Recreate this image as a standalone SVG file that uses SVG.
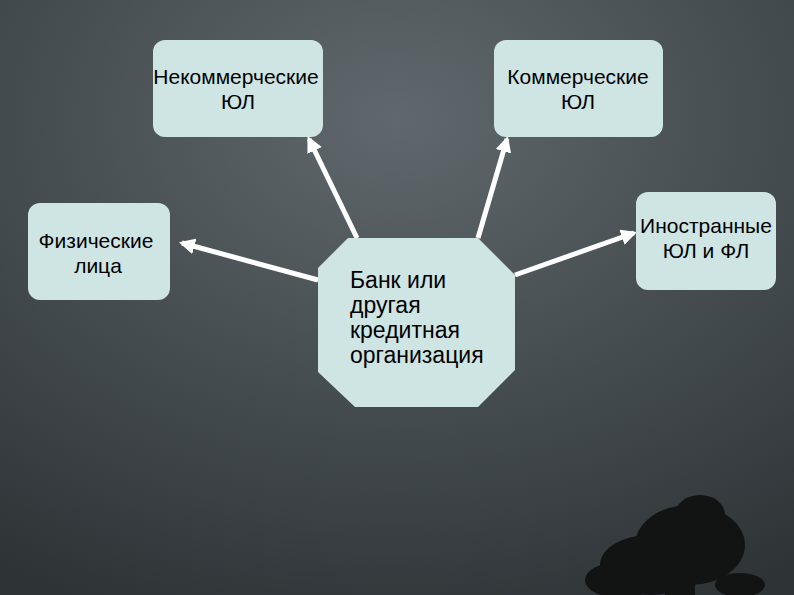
<svg xmlns="http://www.w3.org/2000/svg" width="794" height="595" viewBox="0 0 794 595">
<defs>
<radialGradient id="bg" cx="0.5" cy="0.2" r="0.9">
<stop offset="0" stop-color="#5f686c"/>
<stop offset="1" stop-color="#2e3336"/>
</radialGradient>
<marker id="ah" viewBox="0 0 10 10" refX="8" refY="5" markerWidth="3.2" markerHeight="3.2" orient="auto">
<path d="M0,0 L10,5 L0,10 Z" fill="#ffffff"/>
</marker>
<style>
.box{fill:#cfe5e3;}
.t{font-family:"Liberation Sans",Arial,sans-serif;font-size:21px;fill:#000;}
.b{font-size:23px;}
.c{stroke:#fff;stroke-width:5;fill:none;marker-end:url(#ah);}
</style>
</defs>
<rect width="794" height="595" fill="url(#bg)"/>
<g id="tree" fill="#121414">
<ellipse cx="690" cy="545" rx="55" ry="40"/>
<ellipse cx="650" cy="565" rx="50" ry="30"/>
<ellipse cx="700" cy="515" rx="25" ry="20"/>
<ellipse cx="620" cy="580" rx="35" ry="18"/>
<ellipse cx="740" cy="585" rx="25" ry="12"/>
<rect x="665" y="560" width="30" height="35"/>
</g>
<g id="connectors">
<line class="c" x1="318" y1="280" x2="182" y2="243"/>
<line class="c" x1="357" y1="238" x2="309" y2="139"/>
<line class="c" x1="478" y1="238" x2="507" y2="139"/>
<line class="c" x1="515" y1="275" x2="634" y2="233"/>
</g>
<g id="bank">
<polygon class="box" points="348,238 478,238 515,275 515,370 478,407 355,407 318,372 318,268"/>
<text class="t b" x="350" y="288">Банк или</text>
<text class="t b" x="350" y="313">другая</text>
<text class="t b" x="350" y="338">кредитная</text>
<text class="t b" x="350" y="363">организация</text>
</g>
<g id="nekomm">
<rect class="box" x="153" y="40" width="170" height="97" rx="12"/>
<text class="t" x="236" y="84" text-anchor="middle">Некоммерческие</text>
<text class="t" x="238" y="109" text-anchor="middle">ЮЛ</text>
</g>
<g id="komm">
<rect class="box" x="494" y="40" width="169" height="97" rx="12"/>
<text class="t" x="578" y="84" text-anchor="middle">Коммерческие</text>
<text class="t" x="578" y="109" text-anchor="middle">ЮЛ</text>
</g>
<g id="phys">
<rect class="box" x="28" y="203" width="142" height="97" rx="12"/>
<text class="t" x="96" y="248" text-anchor="middle">Физические</text>
<text class="t" x="98" y="273" text-anchor="middle">лица</text>
</g>
<g id="foreign">
<rect class="box" x="636" y="192" width="140" height="98" rx="12"/>
<text class="t" x="706" y="233" text-anchor="middle">Иностранные</text>
<text class="t" x="706" y="258" text-anchor="middle">ЮЛ и ФЛ</text>
</g>
</svg>
